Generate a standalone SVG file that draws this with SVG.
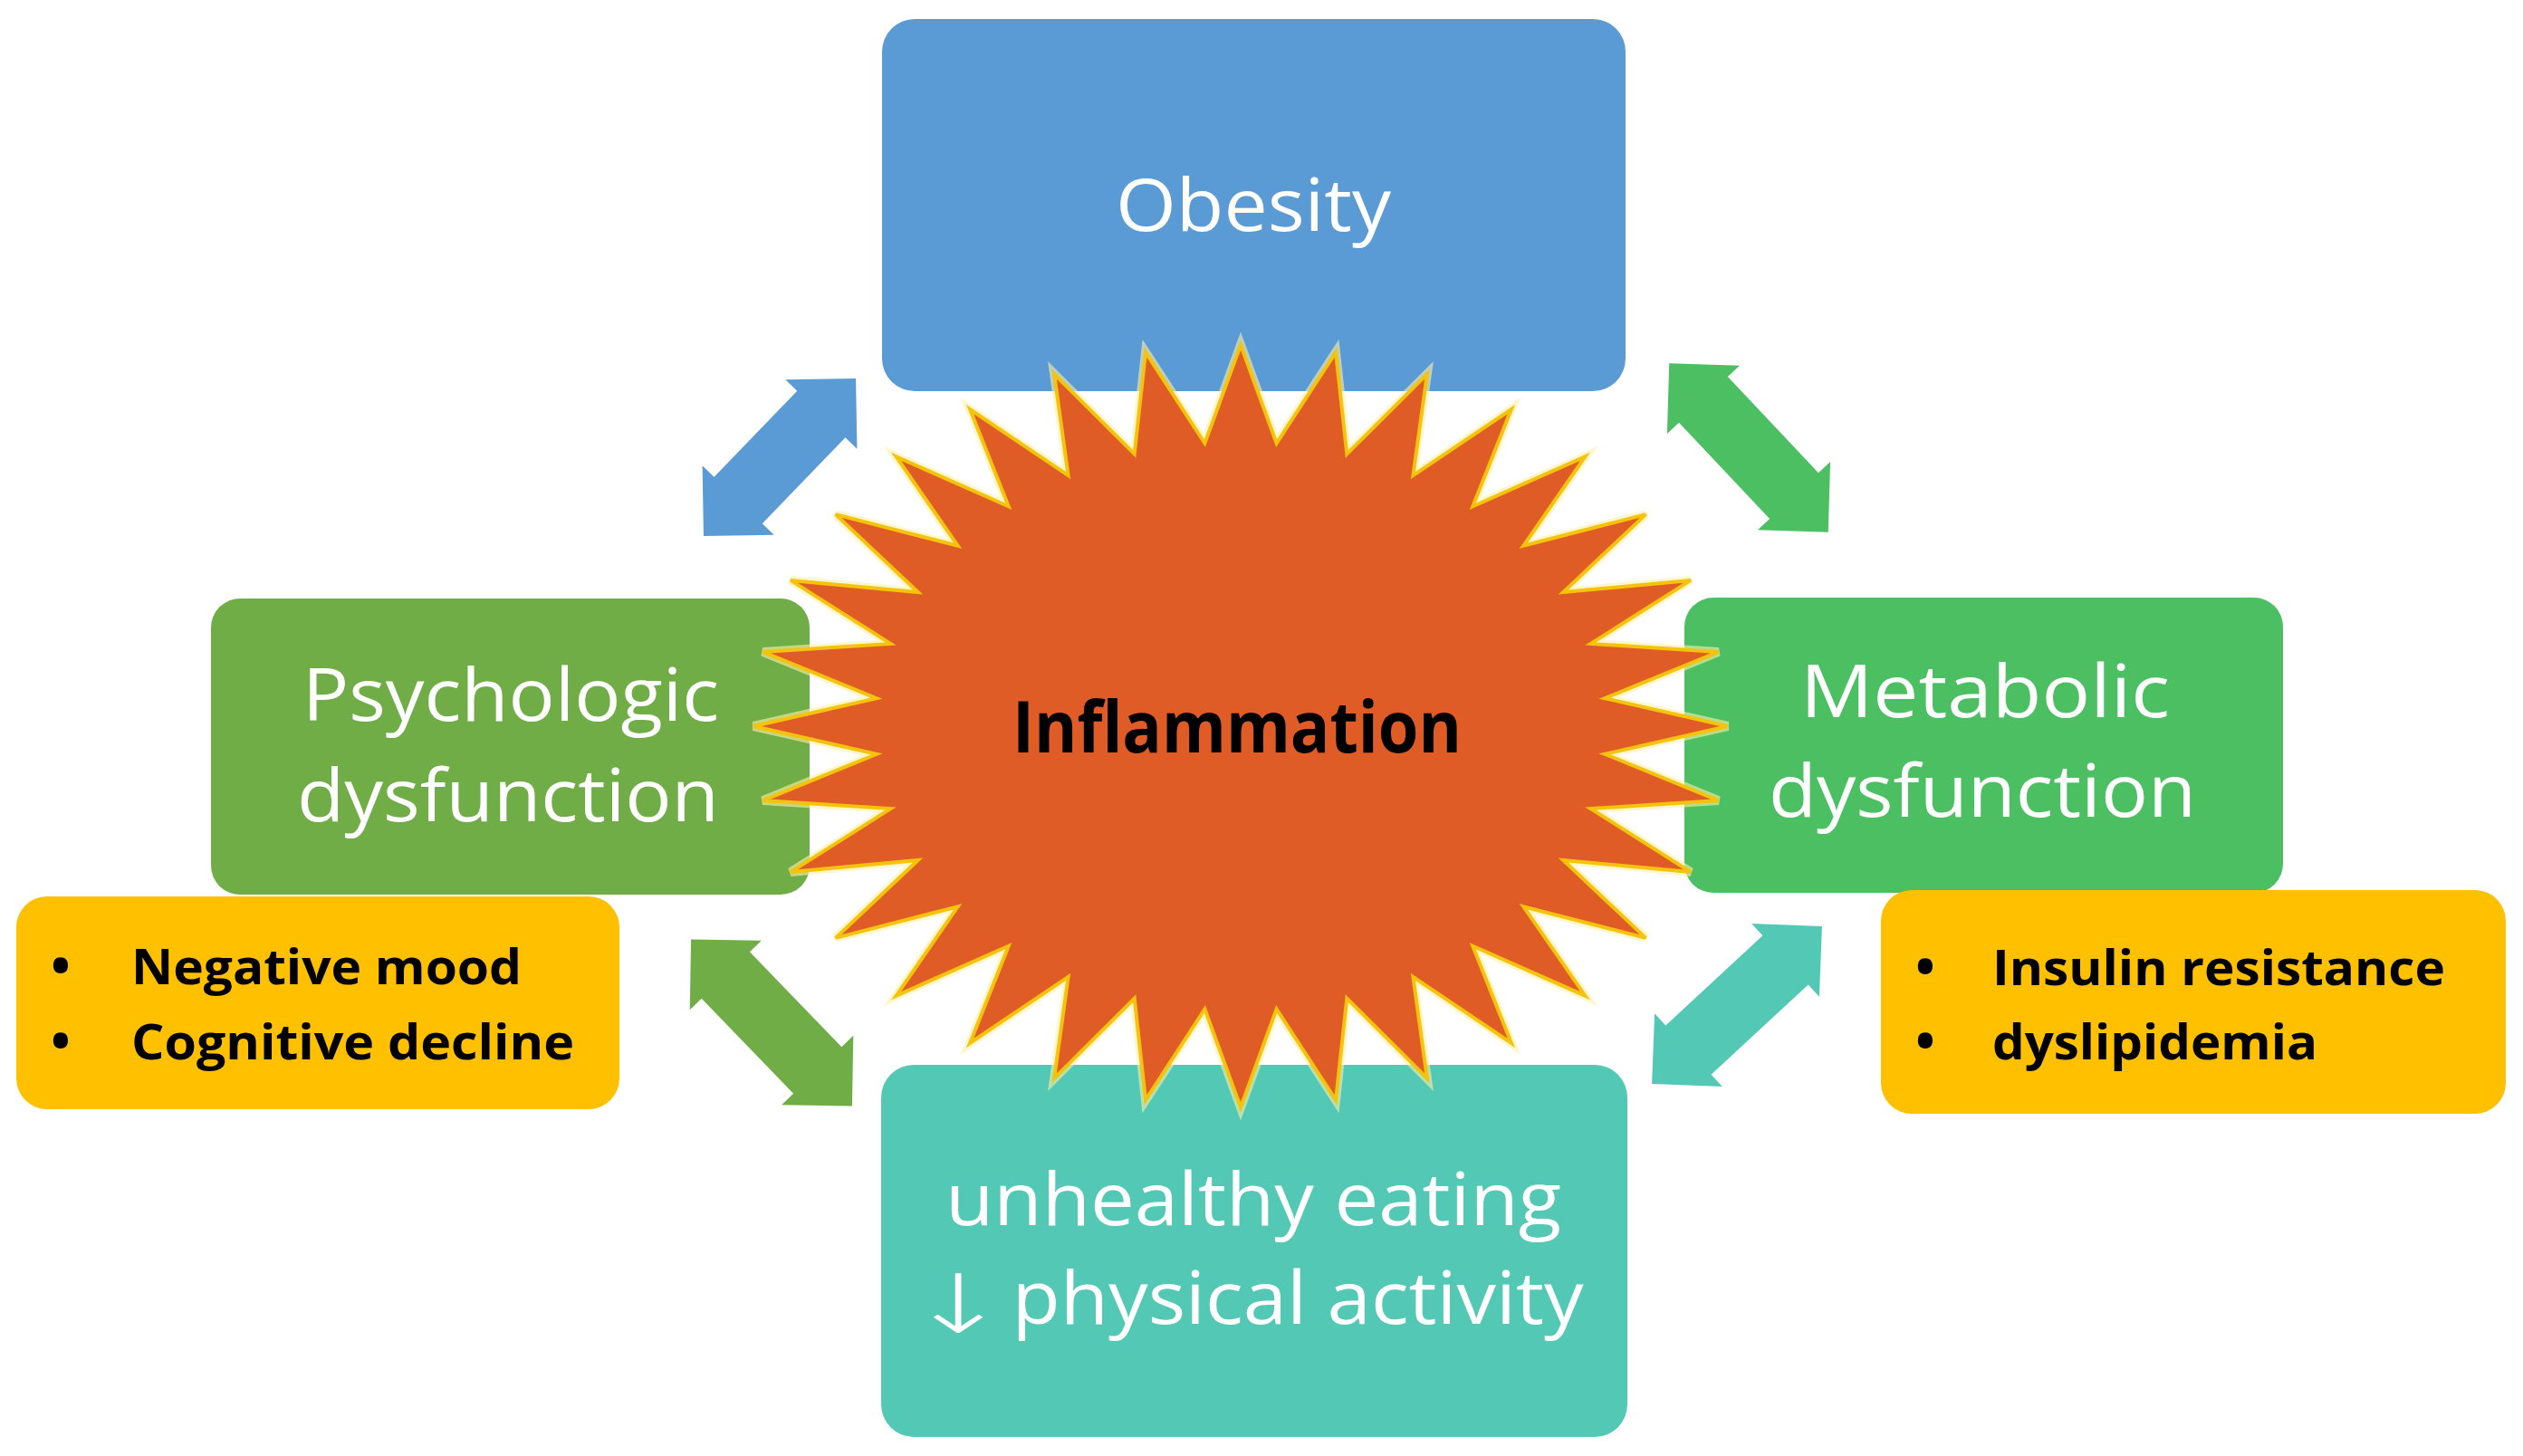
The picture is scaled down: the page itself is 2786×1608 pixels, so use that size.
<svg xmlns="http://www.w3.org/2000/svg" xmlns:xlink="http://www.w3.org/1999/xlink" width="2786" height="1608" viewBox="0 0 2786 1608">
<style>
.bg{fill:#ffffff}
.c-blue{fill:#5B9BD5}
.c-green{fill:#4CBF62}
.c-olive{fill:#70AD47}
.c-teal{fill:#53C9B5}
.c-yellow{fill:#FFC000}
.star{fill:#E05C26;stroke:#F5C20C;stroke-width:4;stroke-linejoin:miter}
.halo{fill:none;stroke:#FFF1A8;stroke-width:10;stroke-linejoin:miter;opacity:0.6}
.lbl{font-family:"Open Sans","Liberation Sans","DejaVu Sans",sans-serif;font-size:80px;fill:#ffffff;text-anchor:middle}
.arr{font-family:"DejaVu Sans","Liberation Sans",sans-serif;font-weight:200;font-size:90px;fill:#ffffff;text-anchor:middle}
.hub{font-family:"Open Sans","Liberation Sans",sans-serif;font-weight:700;font-size:79px;fill:#000000;text-anchor:middle}
.blt{font-family:"Open Sans","Liberation Sans",sans-serif;font-weight:700;font-size:54px;fill:#000000}
.dot{font-family:"Open Sans","Liberation Sans",sans-serif;font-weight:700;font-size:58px;fill:#000000;text-anchor:middle}
</style>
<defs>
<polygon id="arrowS" points="121,0 66,55 66,37 -66,37 -66,55 -121,0 -66,-55 -66,-37 66,-37 66,-55"/>
<polygon id="arrowL" points="128,0 73,55 73,37 -73,37 -73,55 -128,0 -73,-55 -73,-37 73,-37 73,-55"/>
</defs>
<rect class="bg" x="0" y="0" width="2786" height="1608"/>

<g id="connectors">
<use xlink:href="#arrowS" class="c-blue" transform="translate(861,505) rotate(-46)"/>
<use xlink:href="#arrowL" class="c-green" transform="translate(1931,494.5) rotate(46.7)"/>
<use xlink:href="#arrowL" class="c-olive" transform="translate(852,1129.5) rotate(46)"/>
<use xlink:href="#arrowL" class="c-teal" transform="translate(1918,1110) rotate(-42.8)"/>
</g>

<g id="node-obesity">
<rect class="c-blue" x="974" y="21" width="821" height="411" rx="36"/>
<text class="lbl" x="1384" y="255" textLength="304" lengthAdjust="spacingAndGlyphs">Obesity</text>
</g>

<g id="node-psychologic">
<rect class="c-olive" x="233" y="661" width="661" height="327" rx="32"/>
<text class="lbl" x="564" y="796" textLength="460" lengthAdjust="spacingAndGlyphs">Psychologic</text>
<text class="lbl" x="561" y="907" textLength="466" lengthAdjust="spacingAndGlyphs">dysfunction</text>
</g>

<g id="node-metabolic">
<rect class="c-green" x="1860" y="660" width="661" height="326" rx="32"/>
<text class="lbl" x="2192" y="792" textLength="408" lengthAdjust="spacingAndGlyphs">Metabolic</text>
<text class="lbl" x="2189" y="902" textLength="472" lengthAdjust="spacingAndGlyphs">dysfunction</text>
</g>

<g id="node-lifestyle">
<rect class="c-teal" x="973" y="1176" width="824" height="411" rx="36"/>
<text class="lbl" x="1384" y="1353" textLength="680" lengthAdjust="spacingAndGlyphs">unhealthy eating</text>
<text class="arr" transform="translate(1058,1472) scale(1.5,1)" x="0" y="0">↓</text>
<text class="lbl" x="1433" y="1462" textLength="631" lengthAdjust="spacingAndGlyphs">physical activity</text>
</g>

<g id="node-inflammation">
<polygon class="halo" points="1370,381 1409.6,489.5 1475,389.1 1487.3,501.5 1575.9,413 1560.4,525.1 1668.9,452 1626.3,559.3 1750.4,504.3 1682.3,602.8 1817.3,568.1 1726.3,654 1867,640.9 1756.6,710.9 1897.7,719.9 1772.1,771.2 1908,802 1772.1,832.8 1897.7,884.1 1756.6,893.1 1867,963.1 1726.3,950 1817.3,1035.9 1682.3,1001.2 1750.4,1099.7 1626.3,1044.7 1668.9,1152 1560.4,1078.9 1575.9,1191 1487.3,1102.5 1475,1214.9 1409.6,1114.5 1370,1223 1330.4,1114.5 1265,1214.9 1252.7,1102.5 1164.1,1191 1179.6,1078.9 1071.1,1152 1113.7,1044.7 989.6,1099.7 1057.7,1001.2 922.7,1035.9 1013.7,950 873,963.1 983.4,893.1 842.3,884.1 967.9,832.8 832,802 967.9,771.2 842.3,719.9 983.4,710.9 873,640.9 1013.7,654 922.7,568.1 1057.7,602.8 989.6,504.3 1113.7,559.3 1071.1,452 1179.6,525.1 1164.1,413 1252.7,501.5 1265,389.1 1330.4,489.5"/>
<polygon class="star" points="1370,381 1409.6,489.5 1475,389.1 1487.3,501.5 1575.9,413 1560.4,525.1 1668.9,452 1626.3,559.3 1750.4,504.3 1682.3,602.8 1817.3,568.1 1726.3,654 1867,640.9 1756.6,710.9 1897.7,719.9 1772.1,771.2 1908,802 1772.1,832.8 1897.7,884.1 1756.6,893.1 1867,963.1 1726.3,950 1817.3,1035.9 1682.3,1001.2 1750.4,1099.7 1626.3,1044.7 1668.9,1152 1560.4,1078.9 1575.9,1191 1487.3,1102.5 1475,1214.9 1409.6,1114.5 1370,1223 1330.4,1114.5 1265,1214.9 1252.7,1102.5 1164.1,1191 1179.6,1078.9 1071.1,1152 1113.7,1044.7 989.6,1099.7 1057.7,1001.2 922.7,1035.9 1013.7,950 873,963.1 983.4,893.1 842.3,884.1 967.9,832.8 832,802 967.9,771.2 842.3,719.9 983.4,710.9 873,640.9 1013.7,654 922.7,568.1 1057.7,602.8 989.6,504.3 1113.7,559.3 1071.1,452 1179.6,525.1 1164.1,413 1252.7,501.5 1265,389.1 1330.4,489.5"/>
<text class="hub" x="1366" y="831" textLength="496" lengthAdjust="spacingAndGlyphs">Inflammation</text>
</g>

<g id="node-psych-details">
<rect class="c-yellow" x="18" y="990" width="666" height="235" rx="34"/>
<text class="dot" x="67" y="1087">•</text>
<text class="blt" x="145" y="1087" textLength="431" lengthAdjust="spacingAndGlyphs">Negative mood</text>
<text class="dot" x="67" y="1170">•</text>
<text class="blt" x="145" y="1170" textLength="489" lengthAdjust="spacingAndGlyphs">Cognitive decline</text>
</g>

<g id="node-metabolic-details">
<rect class="c-yellow" x="2077" y="983" width="690" height="247" rx="34"/>
<text class="dot" x="2126" y="1088">•</text>
<text class="blt" x="2200" y="1088" textLength="500" lengthAdjust="spacingAndGlyphs">Insulin resistance</text>
<text class="dot" x="2126" y="1170">•</text>
<text class="blt" x="2200" y="1170" textLength="359" lengthAdjust="spacingAndGlyphs">dyslipidemia</text>
</g>
</svg>
